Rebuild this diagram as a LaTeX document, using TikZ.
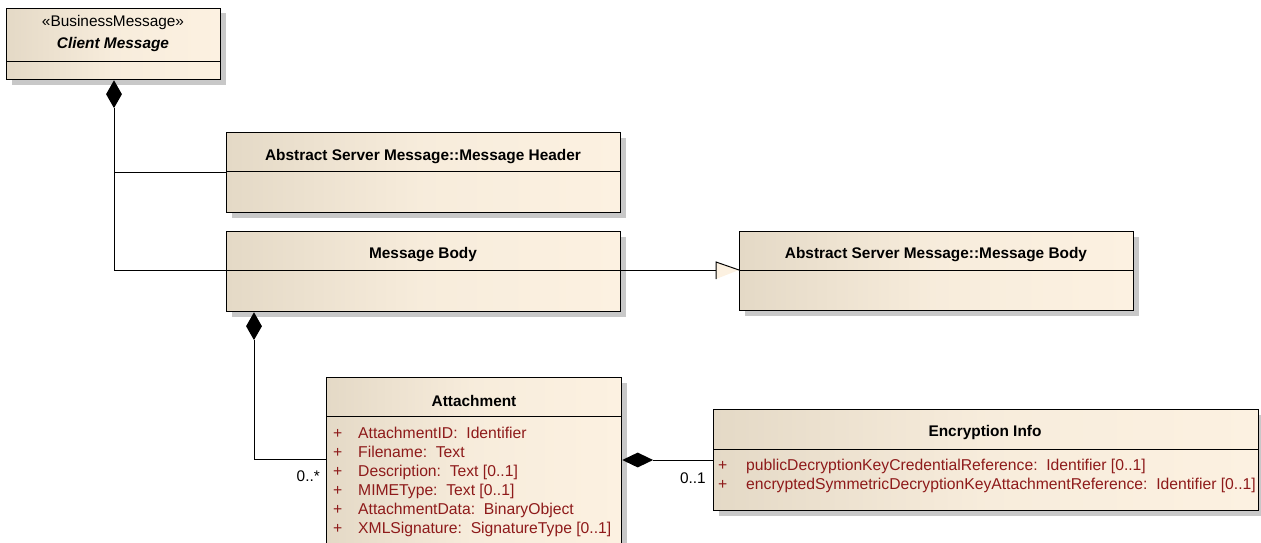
\documentclass[tikz,border=0pt]{standalone}
\usepackage{fontspec}
\setmainfont{Liberation Sans}
\usetikzlibrary{shadows,shapes.geometric}
\definecolor{boxleft}{HTML}{E4D9C6}
\definecolor{boxright}{HTML}{FCF1E1}
\definecolor{attrred}{HTML}{8E1A1A}
\definecolor{shadowgray}{HTML}{C8C8C8}
\begin{document}
\begin{tikzpicture}[x=1pt,y=-1pt,
  classbox/.style={draw=black, line width=1pt, inner sep=0pt, anchor=north west,
    left color=boxleft, right color=boxright, middle color=boxright!80!boxleft,
    drop shadow={shadow xshift=5pt, shadow yshift=-5pt, fill=shadowgray, opacity=1}},
  titletxt/.style={font=\fontsize{15.4}{18}\selectfont\bfseries, inner sep=0pt},
  stereotxt/.style={font=\fontsize{15.4}{18}\selectfont, inner sep=0pt},
  attrtxt/.style={font=\fontsize{15.7}{18}\selectfont, text=attrred, inner sep=0pt, anchor=base west},
  multtxt/.style={font=\fontsize{15.4}{18}\selectfont, inner sep=0pt, anchor=base east},
  sepline/.style={line width=1pt},
  conn/.style={line width=1pt},
  compdiamond/.style={diamond, fill=black, inner sep=0pt}
]
\useasboundingbox (0,0) rectangle (1261,543);

% Client Message
\node[classbox, minimum width=214pt, minimum height=71pt] (client) at (6,8) {};
\draw[sepline] (6,62) -- (220,62);
\node[stereotxt] (clientst) at (113,23) {«BusinessMessage»};
\node[titletxt, font=\fontsize{15.4}{18}\selectfont\bfseries\itshape] (clientnm) at (113,45) {Client Message};

% Message Header
\node[classbox, minimum width=394pt, minimum height=80pt] (hdr) at (226,132) {};
\draw[sepline] (226,171) -- (620,171);
\node[titletxt] (hdrt) at (423,157) {Abstract Server Message::Message Header};

% Message Body
\node[classbox, minimum width=394pt, minimum height=80pt] (body) at (226,231) {};
\draw[sepline] (226,270) -- (620,270);
\node[titletxt] (bodyt) at (423,255) {Message Body};

% Abstract Server Message Body
\node[classbox, minimum width=394pt, minimum height=79pt] (absbody) at (739,231) {};
\draw[sepline] (739,270) -- (1133,270);
\node[titletxt] (absbodyt) at (936,255) {Abstract Server Message::Message Body};

% Attachment
\node[classbox, minimum width=295pt, minimum height=170pt] (att) at (326,377) {};
\draw[sepline] (326,416) -- (621,416);
\node[titletxt] (attt) at (474,401) {Attachment};
\foreach \i/\t in {0/{AttachmentID:\ \ Identifier},1/{Filename:\ \ Text},2/{Description:\ \ Text [0..1]},3/{MIMEType:\ \ Text [0..1]},4/{AttachmentData:\ \ BinaryObject},5/{XMLSignature:\ \ SignatureType [0..1]}}{
  \node[attrtxt] (attp\i) at (333,{438+19*\i}) {+};
  \node[attrtxt] (atta\i) at (358,{438+19*\i}) {\t};
}

% Encryption Info
\node[classbox, minimum width=545pt, minimum height=101pt] (enc) at (713,409) {};
\draw[sepline] (713,449) -- (1258,449);
\node[titletxt] (enct) at (985,433) {Encryption Info};
\node[attrtxt] (encp0) at (718,470) {+};
\node[attrtxt] (enca0) at (746,470) {publicDecryptionKeyCredentialReference:\ \ Identifier [0..1]};
\node[attrtxt] (encp1) at (718,489) {+};
\node[attrtxt] (enca1) at (746,489) {encryptedSymmetricDecryptionKeyAttachmentReference:\ \ Identifier [0..1]};

% Composition: Client Message <>-- Header, Body
\node[compdiamond, minimum width=16pt, minimum height=28pt, anchor=north] (d1) at (114,80) {};
\coordinate (j1) at (114,172);
\coordinate (j2) at (114,270);
\draw[conn] (d1.south) -- (j2) -- (j2 -| body.west);
\draw[conn] (j1) -- (j1 -| hdr.west);

% Generalization Message Body --|> Abstract Server Message Body
\coordinate (gtip) at (739,270);
\coordinate (gtop) at (716,262);
\coordinate (gbot) at (716,279);
\draw[conn] (body.east |- gtip) -- (gtop |- gtip);
\fill[boxright] (gtop) -- (gtip) -- (gbot) -- cycle;
\draw[conn] (gbot) -- (gtop) -- (gtip);

% Composition: Message Body <>-- Attachment
\node[compdiamond, minimum width=16pt, minimum height=28pt, anchor=north] (d2) at (254,312) {};
\coordinate (j3) at (254,459);
\draw[conn] (d2.south) -- (j3) -- (j3 -| att.west);
\node[multtxt] (m1) at (320,481) {0..*};

% Composition: Attachment <>-- Encryption Info
\node[compdiamond, minimum width=31pt, minimum height=15pt, anchor=west] (d3) at (622,460) {};
\draw[conn] (d3.east) -- (d3.east -| enc.west);
\node[multtxt] (m2) at (706,483) {0..1};

\end{tikzpicture}
\end{document}
